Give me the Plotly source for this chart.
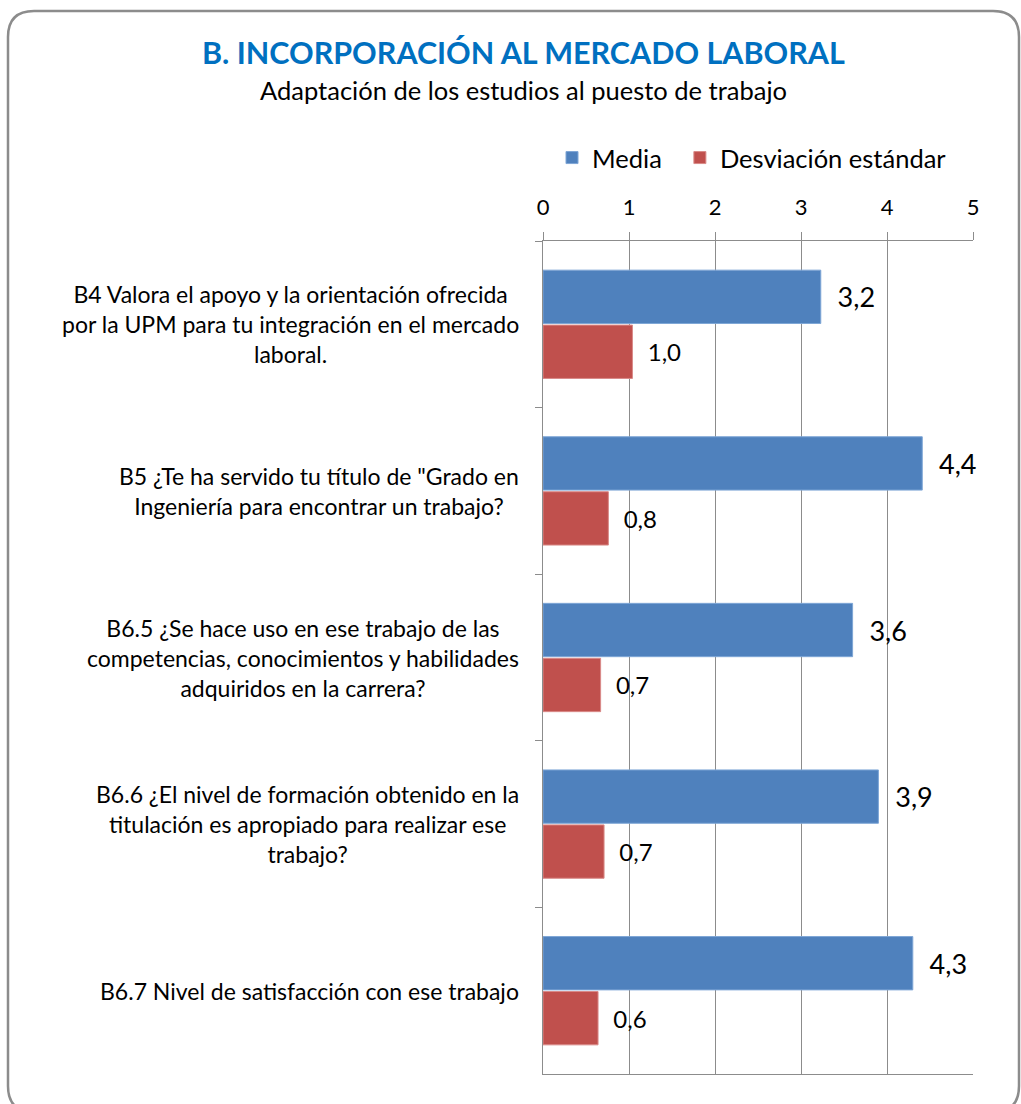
import plotly.graph_objects as go

categories = [
    "B4 Valora el apoyo y la orientación ofrecida<br>por la UPM para tu integración en el mercado<br>laboral.",
    "B5 ¿Te ha servido tu título de \"Grado en<br>Ingeniería para encontrar un trabajo?",
    "B6.5 ¿Se hace uso en ese trabajo de las<br>competencias, conocimientos y habilidades<br>adquiridos en la carrera?",
    "B6.6 ¿El nivel de formación obtenido en la<br>titulación es apropiado para realizar ese<br>trabajo?",
    "B6.7 Nivel de satisfacción con ese trabajo",
]
media = [3.23, 4.41, 3.60, 3.90, 4.30]
desviacion = [1.04, 0.76, 0.67, 0.71, 0.64]
x_ticks = [0, 1, 2, 3, 4, 5]

W, H = 1021, 1104
L, R, T, B = 543, 48, 241, 30
pw, ph = W - L - R, H - T - B
FONT = "Lato"


def px(x):
    return (x - L) / pw


def py(y):
    return (H - B - y) / ph


def fmt(v):
    return f"{v:.1f}".replace(".", ",")


NB = "\u00a0\u00a0"

fig = go.Figure()
fig.add_trace(go.Bar(
    y=categories, x=media, orientation="h", name="Media\u00a0\u00a0",
    marker=dict(color="#4F81BD", line=dict(color="#7EA6D6", width=1)),
    text=[NB + fmt(v) for v in media], textposition="outside",
    textfont=dict(size=27, color="#000000", family=FONT), cliponaxis=False,
))
fig.add_trace(go.Bar(
    y=categories, x=desviacion, orientation="h", name="Desviación estándar",
    marker=dict(color="#C0504D", line=dict(color="#D98A88", width=1)),
    text=[NB + fmt(v) for v in desviacion], textposition="outside",
    textfont=dict(size=24, color="#000000", family=FONT), cliponaxis=False,
))

annotations = []
for c in categories:
    annotations.append(dict(
        x=px(521), xref="paper", y=c, yref="y", text=c, showarrow=False,
        xanchor="right", yanchor="middle", align="center",
        font=dict(size=23, color="#000000", family=FONT),
    ))
annotations.append(dict(
    x=px(523), xref="paper", y=py(52), yref="paper",
    text="<b>B. INCORPORACIÓN AL MERCADO LABORAL</b>", showarrow=False,
    xanchor="center", yanchor="middle",
    font=dict(size=30.5, color="#0070C0", family=FONT),
))
annotations.append(dict(
    x=px(523), xref="paper", y=py(90), yref="paper",
    text="Adaptación de los estudios al puesto de trabajo", showarrow=False,
    xanchor="center", yanchor="middle",
    font=dict(size=25.5, color="#000000", family=FONT),
))

# rounded frame (pixel coords converted to paper)
x0, y0, x1, y1, r = 8, 11, 1019, 1112, 26
path = (
    f"M {px(x0+r)},{py(y0)} L {px(x1-r)},{py(y0)} "
    f"Q {px(x1)},{py(y0)} {px(x1)},{py(y0+r)} "
    f"L {px(x1)},{py(y1-r)} Q {px(x1)},{py(y1)} {px(x1-r)},{py(y1)} "
    f"L {px(x0+r)},{py(y1)} Q {px(x0)},{py(y1)} {px(x0)},{py(y1-r)} "
    f"L {px(x0)},{py(y0+r)} Q {px(x0)},{py(y0)} {px(x0+r)},{py(y0)} Z"
)

fig.update_layout(
    width=W, height=H,
    margin=dict(l=L, r=R, t=T, b=B),
    paper_bgcolor="white", plot_bgcolor="white",
    barmode="group", bargap=0.34, bargroupgap=0.03,
    font=dict(family=FONT, color="#000000"),
    showlegend=True,
    legend=dict(
        orientation="h", x=px(552), y=py(158), xanchor="left", yanchor="middle",
        font=dict(size=25.5, family=FONT), itemwidth=30, traceorder="normal",
        bgcolor="rgba(0,0,0,0)",
    ),
    xaxis=dict(
        side="top", range=[0, 5], tickvals=x_ticks, ticktext=[str(t) for t in x_ticks],
        showgrid=True, gridcolor="#8C8C8C", gridwidth=1,
        showline=True, linecolor="#8C8C8C", linewidth=1, mirror=True,
        ticks="outside", ticklen=8, tickcolor="#8C8C8C", ticklabelstandoff=8,
        tickfont=dict(size=22, family=FONT), zeroline=False,
    ),
    yaxis=dict(
        autorange="reversed", showticklabels=False,
        showline=True, linecolor="#8C8C8C", linewidth=1,
        ticks="outside", tickson="boundaries", ticklen=7, tickcolor="#8C8C8C",
        showgrid=False,
    ),
    annotations=annotations,
    shapes=[dict(type="path", path=path, xref="paper", yref="paper",
                 line=dict(color="#8C8C8C", width=2.5), layer="below")],
)

fig.write_html(
    "out.html",
    config={"displayModeBar": False},
    post_script="document.body.style.margin='0';document.body.style.overflow='hidden';",
)
